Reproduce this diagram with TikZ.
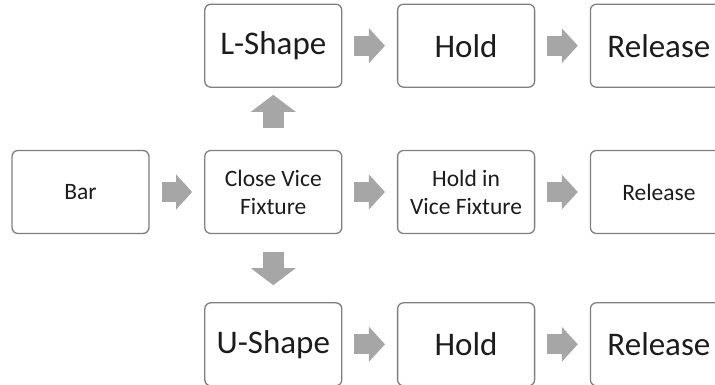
\documentclass[tikz,border=0pt]{standalone}
\usepackage{fontspec}
\setmainfont{Carlito}
\usepackage{xcolor}
\usetikzlibrary{arrows.meta, positioning}
\definecolor{boxline}{HTML}{7F7F7F}
\definecolor{arrowgray}{HTML}{A6A6A6}
\definecolor{textgray}{HTML}{1C1C1C}

\begin{document}
\begin{tikzpicture}[x=1pt, y=1pt,
  box/.style={rectangle, rounded corners=6pt, draw=boxline, line width=1.3pt,
    fill=white, minimum width=137pt, minimum height=83pt, align=center,
    text=textgray, inner sep=2pt},
  bigbox/.style={box, font=\fontsize{33}{40}\selectfont},
  smallbox/.style={box, font=\fontsize{23.5}{28}\selectfont},
  harr/.style={line width=20pt, arrowgray,
    -{Triangle[width=35pt, length=16pt, line width=0pt]},
    shorten <=12pt, shorten >=12pt},
  varr/.style={line width=21pt, arrowgray,
    -{Triangle[width=45pt, length=17pt, line width=0pt]}},
]
\path[use as bounding box, clip] (0,0) rectangle (715,-385);
% ====== MIDDLE ROW ======
\node[smallbox] (bar) at (80.5,-192) {Bar};
\node[smallbox, right=54.5pt of bar] (close) {Close Vice\\Fixture};
\node[smallbox, right=54.5pt of close] (vhold) {Hold in\\Vice Fixture};
\node[smallbox, right=54.5pt of vhold] (vrel) {Release};
\draw[harr] (bar) -- (close);
\draw[harr] (close) -- (vhold);
\draw[harr] (vhold) -- (vrel);
%
% ====== TOP ROW ======
\node[bigbox, above=62pt of close] (lshape) {L-Shape};
\node[bigbox, right=54.5pt of lshape] (lhold) {Hold};
\node[bigbox, right=54.5pt of lhold] (lrel) {Release};
\draw[varr, shorten <=22pt, shorten >=7pt] (close) -- (lshape);
\draw[harr] (lshape) -- (lhold);
\draw[harr] (lhold) -- (lrel);
%
% ====== BOTTOM ROW ======
\node[bigbox, below=68pt of close] (ushape) {U-Shape};
\node[bigbox, right=54.5pt of ushape] (uhold) {Hold};
\node[bigbox, right=54.5pt of uhold] (urel) {Release};
\draw[varr, shorten <=18pt, shorten >=17pt] (close) -- (ushape);
\draw[harr] (ushape) -- (uhold);
\draw[harr] (uhold) -- (urel);
\end{tikzpicture}
\end{document}
